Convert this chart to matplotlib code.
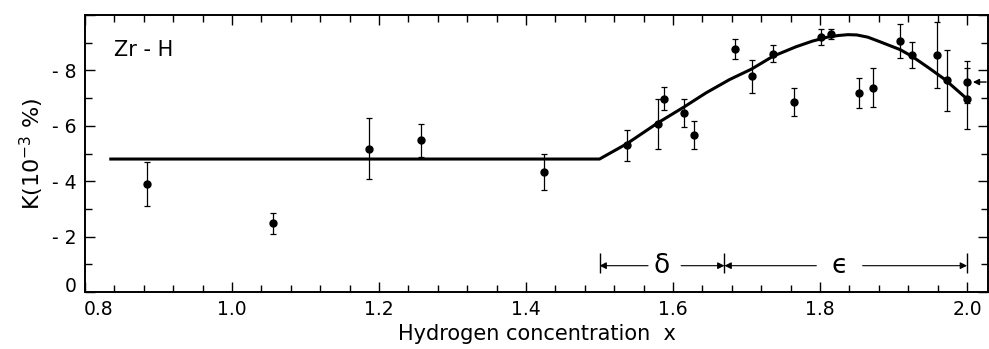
import matplotlib.pyplot as plt
from matplotlib.ticker import MultipleLocator, FixedLocator, FixedFormatter
from matplotlib.transforms import ScaledTranslation

# measured points (x = H/Zr, K in 10^-3 %)
x_conc = [0.885, 1.056, 1.186, 1.257, 1.425, 1.537, 1.579, 1.588, 1.615, 1.629,
          1.684, 1.707, 1.736, 1.765, 1.801, 1.815, 1.853, 1.872, 1.909, 1.925,
          1.959, 1.973, 2.000, 2.000]
k_vals = [-3.9, -2.48, -5.17, -5.47, -4.33, -5.29, -6.07, -6.98, -6.47, -5.68,
          -8.78, -7.79, -8.6, -6.86, -9.2, -9.31, -7.19, -7.37, -9.07, -8.55,
          -8.56, -7.64, -6.98, -7.58]
k_err = [0.8, 0.37, 1.1, 0.6, 0.65, 0.55, 0.9, 0.42, 0.5, 0.5,
         0.36, 0.6, 0.3, 0.49, 0.3, 0.17, 0.54, 0.7, 0.62, 0.46,
         1.2, 1.1, 1.1, 0.75]

# fitted curve
fit_x = [0.833, 1.50, 1.537, 1.579, 1.615, 1.645, 1.677, 1.707, 1.736, 1.767,
         1.790, 1.810, 1.825, 1.838, 1.850, 1.865, 1.880, 1.909, 1.925, 1.948,
         1.970, 2.000]
fit_k = [-4.8, -4.8, -5.35, -6.10, -6.68, -7.19, -7.67, -8.05, -8.51, -8.85,
         -9.06, -9.20, -9.26, -9.29, -9.28, -9.20, -9.05, -8.75, -8.51, -8.09,
         -7.67, -6.97]

# phase regions
phase_bounds = [1.5, 1.67, 2.0]
phase_labels = ['δ', 'ϵ']
phase_label_x = [1.584, 1.826]
phase_gaps = [(1.566, 1.611), (1.795, 1.858)]

x_ticks = [0.8, 1.0, 1.2, 1.4, 1.6, 1.8, 2.0]
x_ticklabels = ['0.8', '1.0', '1.2', '1.4', '1.6', '1.8', '2.0']
y_ticks = [0, -2, -4, -6, -8, -10]
y_ticklabels = ['0', '- 2', '- 4', '- 6', '- 8', '']

plt.rcParams['font.family'] = 'DejaVu Sans'
fig = plt.figure(figsize=(9.89, 3.49), dpi=100)
ax = fig.add_axes([85/989, 1 - 292/349, 903/989, 277/349])

ax.plot(fit_x, fit_k, color='black', lw=2.2, solid_capstyle='butt',
        solid_joinstyle='round')
ax.errorbar(x_conc, k_vals, yerr=k_err, fmt='o', color='black', ms=5,
            elinewidth=0.9, capsize=2.3, capthick=0.9)

# phase region markers
ya = -0.95
ax.vlines(phase_bounds, -0.7, -1.4, color='black', lw=1.0)
arrow_kw = dict(arrowstyle='-|>', color='black', lw=0.8,
                mutation_scale=10, shrinkA=0, shrinkB=0)
for i, lab in enumerate(phase_labels):
    x0, x1 = phase_bounds[i], phase_bounds[i + 1]
    g0, g1 = phase_gaps[i]
    ax.annotate('', xy=(x0, ya), xytext=(g0, ya), arrowprops=arrow_kw)
    ax.annotate('', xy=(x1, ya), xytext=(g1, ya), arrowprops=arrow_kw)
    ax.text(phase_label_x[i], ya, lab, fontsize=19, ha='center', va='center')

# arrow at the right edge
ax.annotate('', xy=(2.008, -7.58), xytext=(2.026, -7.58),
            arrowprops=dict(arrowstyle='-|>', color='black', lw=1.0,
                            mutation_scale=9, shrinkA=0, shrinkB=0),
            annotation_clip=False)

ax.text(0.84, -8.75, 'Zr - H', fontsize=15, ha='left', va='center')

ax.set_xlim(0.8, 2.0 + (989 - 968) / 736)
ax.set_ylim(0, -10)
ax.xaxis.set_major_locator(FixedLocator(x_ticks))
ax.xaxis.set_major_formatter(FixedFormatter(x_ticklabels))
ax.xaxis.set_minor_locator(MultipleLocator(0.04))
ax.yaxis.set_major_locator(FixedLocator(y_ticks))
ax.yaxis.set_major_formatter(FixedFormatter(y_ticklabels))
ax.yaxis.set_minor_locator(MultipleLocator(1))

ax.tick_params(which='both', direction='in', top=True, right=True,
               labelsize=13.5, width=1.0)
ax.tick_params(which='major', length=7, pad=6)
ax.tick_params(which='minor', length=5)
for s in ax.spines.values():
    s.set_linewidth(1.4)

ax.set_xlabel('Hydrogen concentration  x', fontsize=15, labelpad=3)
ax.set_ylabel('K(10$^{-3}$ %)', fontsize=16, labelpad=4)

# nudge the corner labels apart like the original
fig.canvas.draw()
ax.get_xticklabels()[0].set_transform(
    ax.get_xticklabels()[0].get_transform() + ScaledTranslation(0.14, 0, fig.dpi_scale_trans))
ax.get_yticklabels()[0].set_transform(
    ax.get_yticklabels()[0].get_transform() + ScaledTranslation(0, 0.07, fig.dpi_scale_trans))

fig.savefig('out.png', dpi=100)
